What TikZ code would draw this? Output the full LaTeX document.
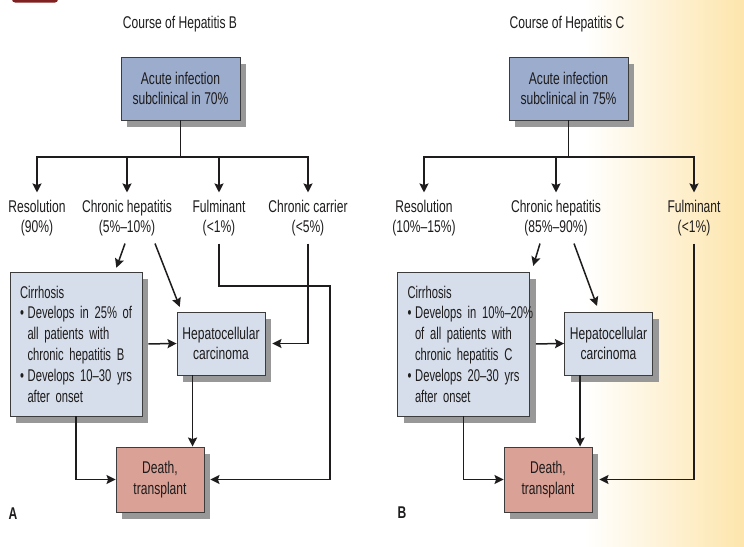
\documentclass[tikz,border=0pt]{standalone}
\usepackage{fontspec}
\setmainfont[FakeStretch=0.71]{Liberation Sans}
\newfontfamily\cirrfamily[FakeStretch=0.66,WordSpace=0.8]{Liberation Sans}
\usetikzlibrary{arrows.meta,shadows,calc}
\definecolor{acutefill}{RGB}{156,172,204}
\definecolor{lightfill}{RGB}{214,222,235}
\definecolor{deathfill}{RGB}{218,161,150}
\definecolor{boxline}{RGB}{60,60,60}
\definecolor{shadowc}{RGB}{152,152,152}
\definecolor{bgyellow}{RGB}{253,229,172}
\definecolor{txt}{RGB}{30,28,28}
\definecolor{barred}{RGB}{128,32,32}
\newcommand{\lineone}[1]{\mbox{#1}}
\newcommand{\hangind}{\hspace*{7.5pt}}
\newcommand{\bul}{•\hspace{3.8pt}}
\newcommand{\nodefont}{\fontsize{17}{20.8}\selectfont}
\newcommand{\cirrfont}{\cirrfamily\fontsize{17}{20.8}\selectfont}
\begin{document}
\begin{tikzpicture}[x=1pt,y=-1pt,
  every node/.style={font=\nodefont, text=txt},
  box/.style={draw=boxline, line width=0.9pt, align=center, inner sep=0pt,
    drop shadow={shadow xshift=6pt, shadow yshift=-7pt, fill=shadowc, opacity=1}},
  acute/.style={box, fill=acutefill, minimum width=119pt, minimum height=63pt},
  cirr/.style={box, fill=lightfill, minimum width=132pt, minimum height=144pt, text width=112pt, align=left, font=\cirrfont},
  hcc/.style={box, fill=lightfill, minimum width=88pt, minimum height=63pt},
  death/.style={box, fill=deathfill, minimum width=88pt, minimum height=65pt},
  lab/.style={align=center, inner xsep=0pt, inner ysep=7pt},
  ttl/.style={inner sep=0pt},
  panel/.style={inner sep=0pt, font=\nodefont\bfseries},
  conn/.style={draw=txt, line width=1.5pt},
  arr/.style={conn, -{Stealth[length=9pt,width=9pt,inset=1.5pt]}}
]
\useasboundingbox (0,0) rectangle (744,546);
% background
\fill[white] (0,0) rectangle (744,546);
\shade[left color=white, right color=bgyellow] (585,0) rectangle (744,546);
\begin{scope}
\clip (0,0) rectangle (744,546);
\fill[barred, rounded corners=3pt] (12,-10) rectangle (58,2.5);
\end{scope}

% ---------------- Panel A ----------------
\node[ttl] (titleA) at (180,24) {Course of Hepatitis B};
\node[acute] (acuteA) at (180.5,88.5) {Acute infection\\subclinical in 70\%};
\node[lab] (resA) at (37,218) {Resolution\\(90\%)};
\node[lab] (chA) at (127,218) {Chronic hepatitis\\(5\%–10\%)};
\node[lab] (fulA) at (219,218) {Fulminant\\(<1\%)};
\node[lab] (carA) at (308,218) {Chronic carrier\\(<5\%)};

\coordinate (brA) at (180.5,157);
\draw[conn] (acuteA.south) -- (brA);
\draw[arr] (brA) -| (resA.north);
\draw[arr] (brA) -| (chA.north);
\draw[arr] (brA) -| (fulA.north);
\draw[arr] (brA) -| (carA.north);

\node[cirr] (cirA) at (76,344) {\lineone{Cirrhosis}\\\lineone{\bul Develops in 25\% of}\\\lineone{\hangind all patients with}\\\lineone{\hangind chronic hepatitis B}\\\lineone{\bul Develops 10–30 yrs}\\\lineone{\hangind after onset}};
\node[hcc] (hccA) at (221,343.5) {Hepatocellular\\carcinoma};
\node[death] (deathA) at (160,479.5) {Death,\\transplant};

\draw[arr, shorten >=4pt] ([xshift=-2pt]chA.south) -- ([xshift=39pt]cirA.north);
\draw[arr, shorten >=5pt] ([xshift=28pt]chA.south) -- ([xshift=5pt]hccA.north west);
\draw[arr, shorten <=6pt] (cirA.east) -- (hccA.west);
\draw[arr] (carA.south) |- ([xshift=7pt]hccA.east);
\draw[arr] (fulA.south) |- (330,286) |- ([xshift=6pt]deathA.east);
\draw[arr] ([xshift=16pt]hccA.south west) -- ([xshift=16pt]hccA.south west |- deathA.north);
\draw[arr] (cirA.south) |- (deathA.west);
\node[panel] (labA) at (13,514) {A};

% ---------------- Panel B ----------------
\node[ttl] (titleB) at (567,24) {Course of Hepatitis C};
\node[acute] (acuteB) at (568.5,88.5) {Acute infection\\subclinical in 75\%};
\node[lab] (resB) at (424,218) {Resolution\\(10\%–15\%)};
\node[lab] (chB) at (556,218) {Chronic hepatitis\\(85\%–90\%)};
\node[lab] (fulB) at (694,218) {Fulminant\\(<1\%)};

\coordinate (brB) at (568.5,157);
\draw[conn] (acuteB.south) -- (brB);
\draw[arr] (brB) -| (resB.north);
\draw[arr] (brB) -| (chB.north);
\draw[arr] (brB) -| (fulB.north);

\node[cirr] (cirB) at (463.5,344) {\lineone{Cirrhosis}\\\lineone{\bul Develops in 10\%–20\%}\\\lineone{\hangind of all patients with}\\\lineone{\hangind chronic hepatitis C}\\\lineone{\bul Develops 20–30 yrs}\\\lineone{\hangind after onset}};
\node[hcc] (hccB) at (608.5,343.5) {Hepatocellular\\carcinoma};
\node[death] (deathB) at (548,479.5) {Death,\\transplant};

\draw[arr, shorten >=6pt] ([xshift=-16pt]chB.south) -- ([xshift=68pt]cirB.north);
\draw[arr, shorten >=6pt] ([xshift=18pt]chB.south) -- ([xshift=35pt]hccB.north west);
\draw[arr, shorten <=6pt] (cirB.east) -- (hccB.west);
\draw[arr] (fulB.south) |- ([xshift=7pt]deathB.east);
\draw[arr] ([xshift=16pt]hccB.south west) -- ([xshift=16pt]hccB.south west |- deathB.north);
\draw[arr] (cirB.south) |- (deathB.west);
\node[panel] (labB) at (402,513) {B};
\end{tikzpicture}
\end{document}
